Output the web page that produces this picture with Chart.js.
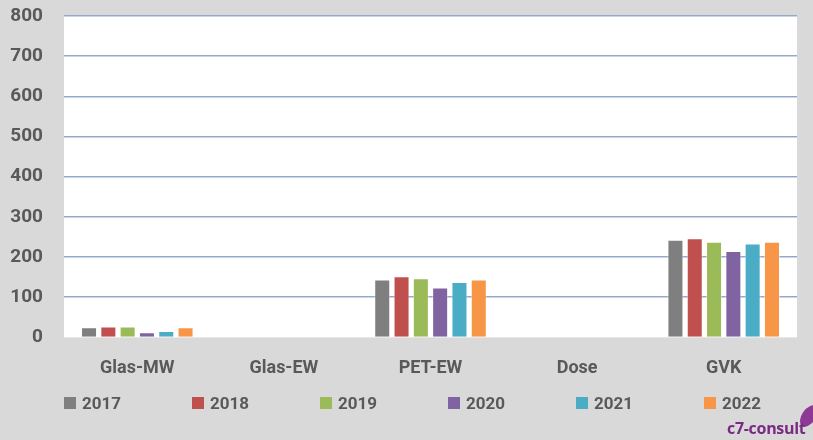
<!DOCTYPE html>
<html>
<head>
<meta charset="utf-8">
<script src="https://cdn.jsdelivr.net/npm/chart.js@4/dist/chart.umd.min.js"></script>
<style>
  html, body { margin: 0; padding: 0; background: #d9d9d9; }
  #wrap { position: relative; width: 813px; height: 440px; overflow: hidden; }
  #chart { position: absolute; left: 0; top: 0; }
  #legend { position: absolute; left: 64px; top: 393px; height: 20px; }
  .item { position: absolute; top: 0; display: flex; align-items: center; white-space: nowrap;
          font: bold 17px Roboto, sans-serif; color: #595959; }
  .box { width: 12px; height: 12px; margin-right: 6px; }
  #logo { position: absolute; left: 727px; top: 417px; font: bold 16px "Open Sans", sans-serif;
          color: #7a2a82; letter-spacing: -0.3px; }
  #swoosh { position: absolute; left: 802px; top: 404px; width: 14px; height: 24px;
            border-radius: 50%; background: #8c3a93; transform: rotate(35deg); }
</style>
</head>
<body>
<div id="wrap">
  <canvas id="chart" width="813" height="440"></canvas>
  <div id="legend"></div>
  <div id="swoosh"></div>
  <div id="logo">c7-consult</div>
</div>
<script>
const categories = ["Glas-MW", "Glas-EW", "PET-EW", "Dose", "GVK"];
const years = ["2017", "2018", "2019", "2020", "2021", "2022"];
const colors = ["#7f7f7f", "#c0504d", "#9bbb59", "#8064a2", "#4bacc6", "#f79646"];

// values per year, in category order (Glas-EW and Dose have no bars)
const v2017 = [25, null, 144, null, 243];
const v2018 = [27, null, 152, null, 247];
const v2019 = [27, null, 147, null, 238];
const v2020 = [13, null, 124, null, 215];
const v2021 = [16, null, 138, null, 234];
const v2022 = [25, null, 144, null, 238];
const series = [v2017, v2018, v2019, v2020, v2021, v2022];

const yTicks = [0, 100, 200, 300, 400, 500, 600, 700, 800];

const plotBg = {
  id: "plotBg",
  beforeDraw(chart) {
    const { ctx, chartArea: a } = chart;
    ctx.save();
    ctx.fillStyle = "#ffffff";
    ctx.fillRect(a.left, a.top, a.right - a.left, a.bottom - a.top);
    ctx.restore();
  }
};

const chart = new Chart("chart", {
  type: "bar",
  data: {
    labels: categories,
    datasets: years.map((y, i) => ({
      label: y,
      data: series[i],
      backgroundColor: colors[i],
      borderColor: "rgba(255,255,255,0.45)",
      borderWidth: 1,
      categoryPercentage: 0.79,
      barPercentage: 0.83
    }))
  },
  options: {
    responsive: false,
    animation: false,
    layout: { padding: { top: 16, right: 16, bottom: 41, left: 0 } },
    plugins: { legend: { display: false }, tooltip: { enabled: false } },
    scales: {
      x: {
        grid: { display: false, drawTicks: false },
        border: { display: false },
        ticks: { padding: 20, color: "#595959", font: { family: "Roboto", size: 18, weight: "bold" } }
      },
      y: {
        min: yTicks[0],
        max: yTicks[yTicks.length - 1],
        afterBuildTicks: (s) => { s.ticks = yTicks.map(v => ({ value: v })); },
        afterFit: (s) => { s.width = 64; s.paddingTop = 0; s.paddingBottom = 0; },
        grid: {
          drawTicks: false,
          color: (c) => c.tick && c.tick.value === 0 ? "rgba(0,0,0,0)" : "#93a9cb",
          lineWidth: 1.5
        },
        border: { display: false },
        ticks: { padding: 21, color: "#595959", font: { family: "Roboto", size: 19, weight: "bold" } }
      }
    }
  },
  plugins: [plotBg]
});

// legend built from the chart's datasets
const legend = document.getElementById("legend");
chart.data.datasets.forEach((ds, i) => {
  const item = document.createElement("div");
  item.className = "item";
  item.style.left = (i * 128) + "px";
  item.innerHTML = '<span class="box" style="background:' + ds.backgroundColor + '"></span>' + ds.label;
  legend.appendChild(item);
});
</script>
</body>
</html>
